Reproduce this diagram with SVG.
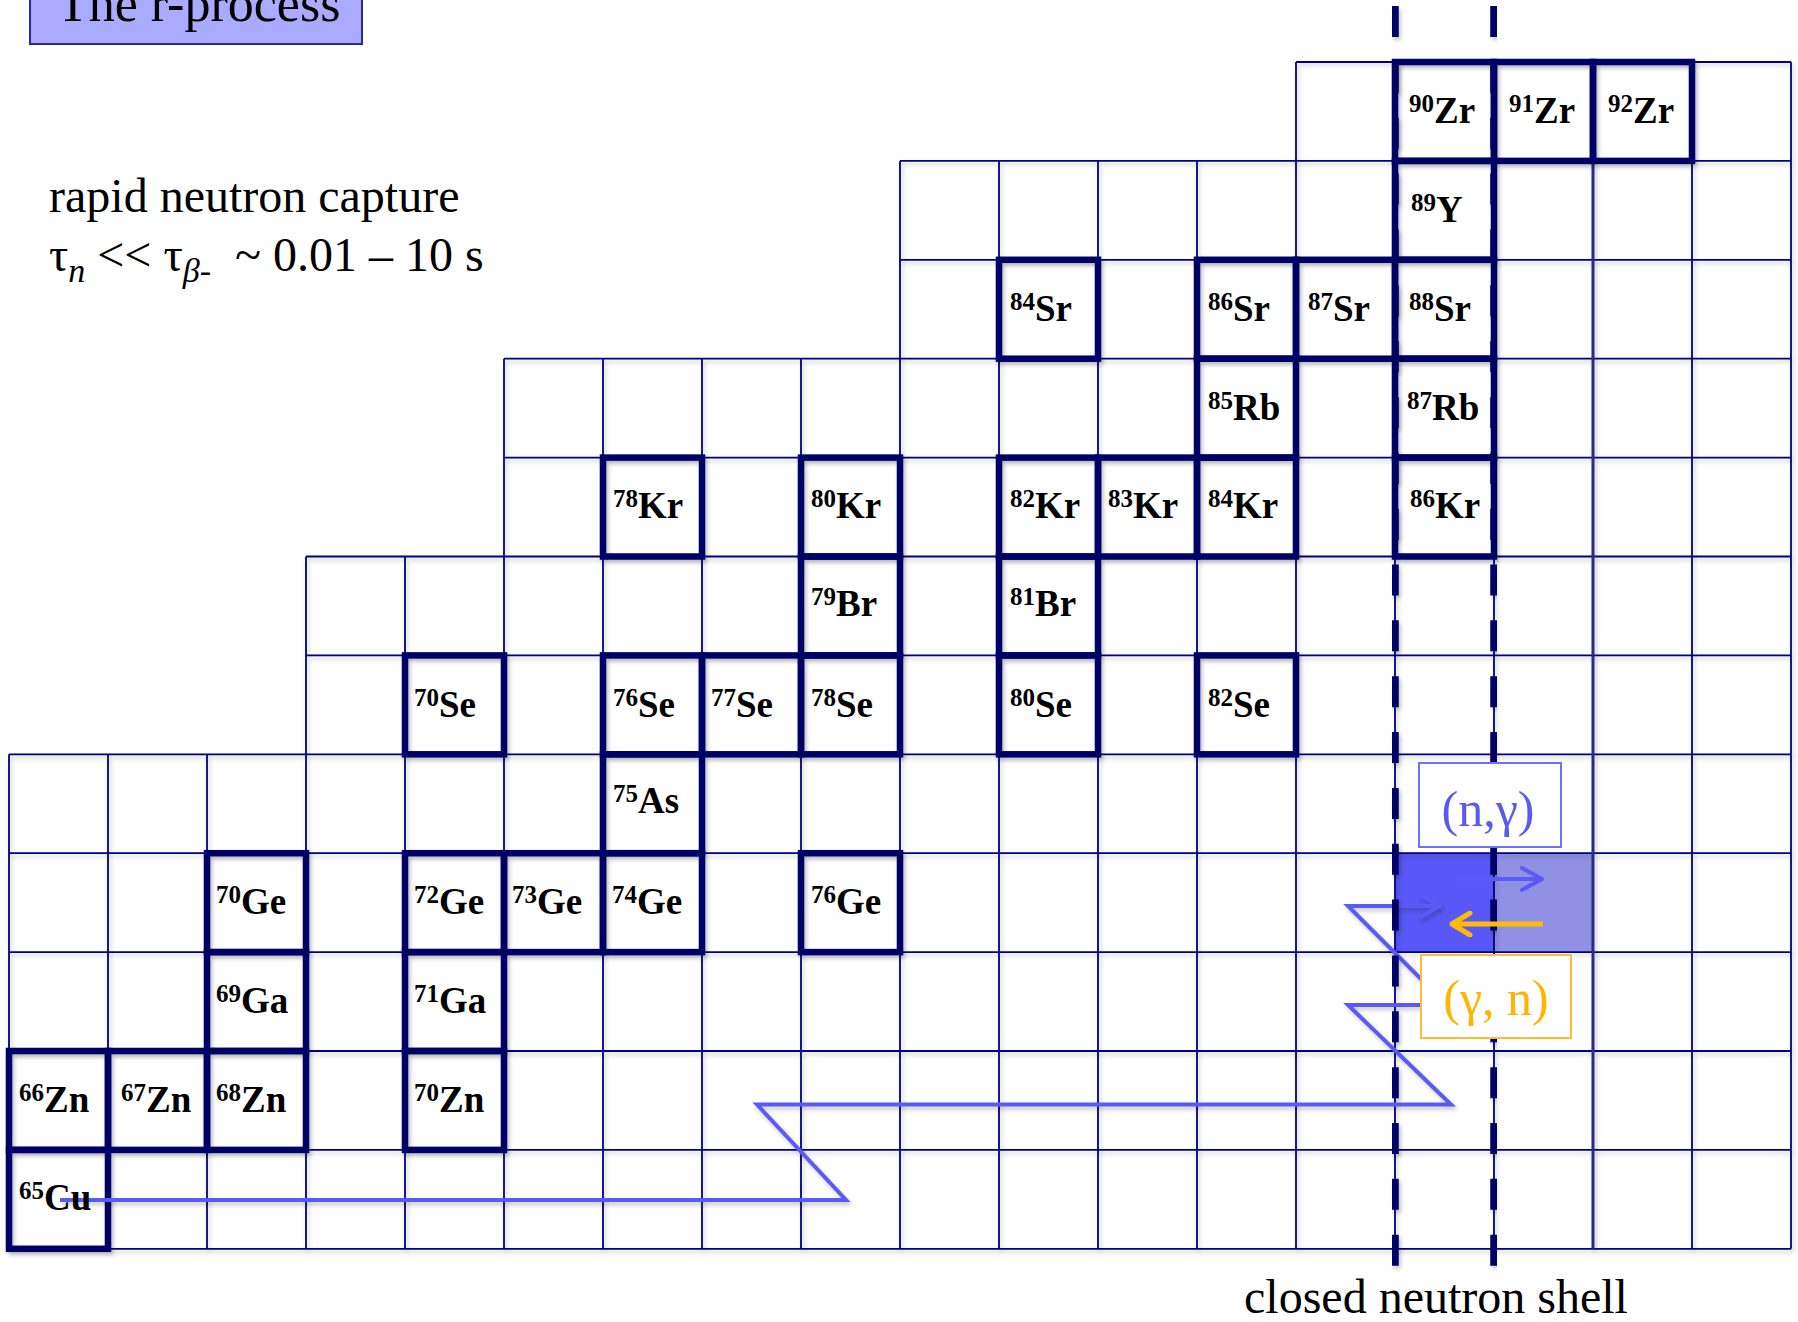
<svg xmlns="http://www.w3.org/2000/svg" width="1798" height="1322" viewBox="0 0 1798 1322">
<style>
.serif{font-family:"Liberation Serif","Times New Roman",serif}
.lbl{font-family:"Liberation Serif","Times New Roman",serif;font-weight:bold;font-size:37px;fill:#000}
.sup{font-size:25px}
.thin{fill:none;stroke:#000080;stroke-width:1.8}
.stab{fill:none;stroke:#000066;stroke-width:6.5}
.shell{fill:none;stroke:#000066;stroke-width:7.5;stroke-dasharray:31 24.85}
.path{fill:none;stroke:#5a5af5;stroke-width:4;stroke-linejoin:miter}
</style>
<defs>
<filter id="sh" x="-3%" y="-3%" width="106%" height="106%">
<feDropShadow dx="2" dy="3" stdDeviation="2" flood-color="#000" flood-opacity="0.22"/>
</filter>
<marker id="chevB" viewBox="0 0 26 26" refX="23" refY="13" markerWidth="26" markerHeight="26" markerUnits="userSpaceOnUse" orient="auto">
<path d="M3,2 L23,13 L3,24" fill="none" stroke="#5a5af5" stroke-width="4" stroke-linecap="round" stroke-linejoin="round"/>
</marker>
<marker id="chevO" viewBox="0 0 26 26" refX="23" refY="13" markerWidth="26" markerHeight="26" markerUnits="userSpaceOnUse" orient="auto">
<path d="M5,2 L23,13 L5,24" fill="none" stroke="#ffbb00" stroke-width="5" stroke-linecap="round" stroke-linejoin="round"/>
</marker>
</defs>
<rect width="1798" height="1322" fill="#fff"/>

<g id="title">
<rect x="30" y="-12" width="332" height="56" fill="#aaaaff" stroke="#2a2a9a" stroke-width="2"/>
<text class="serif" x="57" y="21" font-size="52" fill="#000">The r-process</text>
</g>

<g id="caption">
<text class="serif" x="49" y="212" font-size="48" fill="#000">rapid neutron capture</text>
<text class="serif" x="49" y="271" font-size="48" fill="#000">τ<tspan font-style="italic" font-size="34" dy="11">n</tspan><tspan dy="-11"> &lt;&lt; τ</tspan><tspan font-style="italic" font-size="34" dy="11">β</tspan><tspan font-size="34">-</tspan><tspan dy="-11">&#160; ~ 0.01 – 10 s</tspan></text>
</g>

<g id="highlight-cells">
<rect x="1395" y="853.2" width="99" height="98.9" fill="#5858f8"/>
<rect x="1494" y="853.2" width="99" height="98.9" fill="#9090e4"/>
</g>

<g id="grid" filter="url(#sh)">
<path class="thin" d="M1296,62H1791 M900,160.9H1791 M900,259.8H1791 M504,358.7H1791 M504,457.6H1791 M306,556.5H1791 M306,655.4H1791 M9,754.3H1791 M9,853.2H1791 M9,952.1H1791 M9,1051H1791 M9,1149.9H1791 M9,1248.8H1791"/>
<path class="thin" d="M9,754.3V1248.8 M108,754.3V1248.8 M207,754.3V1248.8 M306,556.5V1248.8 M405,556.5V1248.8 M504,358.7V1248.8 M603,358.7V1248.8 M702,358.7V1248.8 M801,358.7V1248.8 M900,160.9V1248.8 M999,160.9V1248.8 M1098,160.9V1248.8 M1197,160.9V1248.8 M1296,62V1248.8 M1395,62V1248.8 M1494,62V1248.8 M1692,62V1248.8 M1791,62V1248.8"/>
<path d="M1593,62V1248.8" fill="none" stroke="#2a2a8a" stroke-width="3"/>
</g>

<g id="stable" filter="url(#sh)">
<g id="n-90Zr"><rect class="stab" x="1395" y="62" width="99" height="98.9"/></g>
<g id="n-91Zr"><rect class="stab" x="1494" y="62" width="99" height="98.9"/></g>
<g id="n-92Zr"><rect class="stab" x="1593" y="62" width="99" height="98.9"/></g>
<g id="n-89Y"><rect class="stab" x="1395" y="160.9" width="99" height="98.9"/></g>
<g id="n-84Sr"><rect class="stab" x="999" y="259.8" width="99" height="98.9"/></g>
<g id="n-86Sr"><rect class="stab" x="1197" y="259.8" width="99" height="98.9"/></g>
<g id="n-87Sr"><rect class="stab" x="1296" y="259.8" width="99" height="98.9"/></g>
<g id="n-88Sr"><rect class="stab" x="1395" y="259.8" width="99" height="98.9"/></g>
<g id="n-85Rb"><rect class="stab" x="1197" y="358.7" width="99" height="98.9"/></g>
<g id="n-87Rb"><rect class="stab" x="1395" y="358.7" width="99" height="98.9"/></g>
<g id="n-78Kr"><rect class="stab" x="603" y="457.6" width="99" height="98.9"/></g>
<g id="n-80Kr"><rect class="stab" x="801" y="457.6" width="99" height="98.9"/></g>
<g id="n-82Kr"><rect class="stab" x="999" y="457.6" width="99" height="98.9"/></g>
<g id="n-83Kr"><rect class="stab" x="1098" y="457.6" width="99" height="98.9"/></g>
<g id="n-84Kr"><rect class="stab" x="1197" y="457.6" width="99" height="98.9"/></g>
<g id="n-86Kr"><rect class="stab" x="1395" y="457.6" width="99" height="98.9"/></g>
<g id="n-79Br"><rect class="stab" x="801" y="556.5" width="99" height="98.9"/></g>
<g id="n-81Br"><rect class="stab" x="999" y="556.5" width="99" height="98.9"/></g>
<g id="n-70Se"><rect class="stab" x="405" y="655.4" width="99" height="98.9"/></g>
<g id="n-76Se"><rect class="stab" x="603" y="655.4" width="99" height="98.9"/></g>
<g id="n-77Se"><rect class="stab" x="702" y="655.4" width="99" height="98.9"/></g>
<g id="n-78Se"><rect class="stab" x="801" y="655.4" width="99" height="98.9"/></g>
<g id="n-80Se"><rect class="stab" x="999" y="655.4" width="99" height="98.9"/></g>
<g id="n-82Se"><rect class="stab" x="1197" y="655.4" width="99" height="98.9"/></g>
<g id="n-75As"><rect class="stab" x="603" y="754.3" width="99" height="98.9"/></g>
<g id="n-70Ge"><rect class="stab" x="207" y="853.2" width="99" height="98.9"/></g>
<g id="n-72Ge"><rect class="stab" x="405" y="853.2" width="99" height="98.9"/></g>
<g id="n-73Ge"><rect class="stab" x="504" y="853.2" width="99" height="98.9"/></g>
<g id="n-74Ge"><rect class="stab" x="603" y="853.2" width="99" height="98.9"/></g>
<g id="n-76Ge"><rect class="stab" x="801" y="853.2" width="99" height="98.9"/></g>
<g id="n-69Ga"><rect class="stab" x="207" y="952.1" width="99" height="98.9"/></g>
<g id="n-71Ga"><rect class="stab" x="405" y="952.1" width="99" height="98.9"/></g>
<g id="n-66Zn"><rect class="stab" x="9" y="1051" width="99" height="98.9"/></g>
<g id="n-67Zn"><rect class="stab" x="108" y="1051" width="99" height="98.9"/></g>
<g id="n-68Zn"><rect class="stab" x="207" y="1051" width="99" height="98.9"/></g>
<g id="n-70Zn"><rect class="stab" x="405" y="1051" width="99" height="98.9"/></g>
<g id="n-65Cu"><rect class="stab" x="9" y="1149.9" width="99" height="98.9"/></g>
</g>

<g id="connectors">
<polyline class="path" filter="url(#sh)" points="60,1200 846,1200 757,1104.5 1451,1104.5 1348,1005 1447,1005 1348,906 1440,906" marker-end="url(#chevB)"/>
<path class="shell" filter="url(#sh)" d="M1395,6V1270 M1494,6V1270"/>
<line x1="1456" y1="879" x2="1542" y2="879" stroke="#5a5af5" stroke-width="4" marker-end="url(#chevB)"/>
<line x1="1543" y1="924" x2="1452" y2="924" stroke="#ffbb00" stroke-width="5" marker-end="url(#chevO)"/>
</g>

<g id="labels">
<text class="lbl" x="1409" y="123"><tspan class="sup" dy="-11">90</tspan><tspan dy="11">Zr</tspan></text>
<text class="lbl" x="1509" y="123"><tspan class="sup" dy="-11">91</tspan><tspan dy="11">Zr</tspan></text>
<text class="lbl" x="1608" y="123"><tspan class="sup" dy="-11">92</tspan><tspan dy="11">Zr</tspan></text>
<text class="lbl" x="1411" y="222"><tspan class="sup" dy="-11">89</tspan><tspan dy="11">Y</tspan></text>
<text class="lbl" x="1010" y="321"><tspan class="sup" dy="-11">84</tspan><tspan dy="11">Sr</tspan></text>
<text class="lbl" x="1208" y="321"><tspan class="sup" dy="-11">86</tspan><tspan dy="11">Sr</tspan></text>
<text class="lbl" x="1308" y="321"><tspan class="sup" dy="-11">87</tspan><tspan dy="11">Sr</tspan></text>
<text class="lbl" x="1409" y="321"><tspan class="sup" dy="-11">88</tspan><tspan dy="11">Sr</tspan></text>
<text class="lbl" x="1208" y="420"><tspan class="sup" dy="-11">85</tspan><tspan dy="11">Rb</tspan></text>
<text class="lbl" x="1407" y="420"><tspan class="sup" dy="-11">87</tspan><tspan dy="11">Rb</tspan></text>
<text class="lbl" x="613" y="518"><tspan class="sup" dy="-11">78</tspan><tspan dy="11">Kr</tspan></text>
<text class="lbl" x="811" y="518"><tspan class="sup" dy="-11">80</tspan><tspan dy="11">Kr</tspan></text>
<text class="lbl" x="1010" y="518"><tspan class="sup" dy="-11">82</tspan><tspan dy="11">Kr</tspan></text>
<text class="lbl" x="1108" y="518"><tspan class="sup" dy="-11">83</tspan><tspan dy="11">Kr</tspan></text>
<text class="lbl" x="1208" y="518"><tspan class="sup" dy="-11">84</tspan><tspan dy="11">Kr</tspan></text>
<text class="lbl" x="1410" y="518"><tspan class="sup" dy="-11">86</tspan><tspan dy="11">Kr</tspan></text>
<text class="lbl" x="811" y="616"><tspan class="sup" dy="-11">79</tspan><tspan dy="11">Br</tspan></text>
<text class="lbl" x="1010" y="616"><tspan class="sup" dy="-11">81</tspan><tspan dy="11">Br</tspan></text>
<text class="lbl" x="414" y="717"><tspan class="sup" dy="-11">70</tspan><tspan dy="11">Se</tspan></text>
<text class="lbl" x="613" y="717"><tspan class="sup" dy="-11">76</tspan><tspan dy="11">Se</tspan></text>
<text class="lbl" x="711" y="717"><tspan class="sup" dy="-11">77</tspan><tspan dy="11">Se</tspan></text>
<text class="lbl" x="811" y="717"><tspan class="sup" dy="-11">78</tspan><tspan dy="11">Se</tspan></text>
<text class="lbl" x="1010" y="717"><tspan class="sup" dy="-11">80</tspan><tspan dy="11">Se</tspan></text>
<text class="lbl" x="1208" y="717"><tspan class="sup" dy="-11">82</tspan><tspan dy="11">Se</tspan></text>
<text class="lbl" x="613" y="813"><tspan class="sup" dy="-11">75</tspan><tspan dy="11">As</tspan></text>
<text class="lbl" x="216" y="914"><tspan class="sup" dy="-11">70</tspan><tspan dy="11">Ge</tspan></text>
<text class="lbl" x="414" y="914"><tspan class="sup" dy="-11">72</tspan><tspan dy="11">Ge</tspan></text>
<text class="lbl" x="512" y="914"><tspan class="sup" dy="-11">73</tspan><tspan dy="11">Ge</tspan></text>
<text class="lbl" x="612" y="914"><tspan class="sup" dy="-11">74</tspan><tspan dy="11">Ge</tspan></text>
<text class="lbl" x="811" y="914"><tspan class="sup" dy="-11">76</tspan><tspan dy="11">Ge</tspan></text>
<text class="lbl" x="216" y="1013"><tspan class="sup" dy="-11">69</tspan><tspan dy="11">Ga</tspan></text>
<text class="lbl" x="414" y="1013"><tspan class="sup" dy="-11">71</tspan><tspan dy="11">Ga</tspan></text>
<text class="lbl" x="19" y="1112"><tspan class="sup" dy="-11">66</tspan><tspan dy="11">Zn</tspan></text>
<text class="lbl" x="121" y="1112"><tspan class="sup" dy="-11">67</tspan><tspan dy="11">Zn</tspan></text>
<text class="lbl" x="216" y="1112"><tspan class="sup" dy="-11">68</tspan><tspan dy="11">Zn</tspan></text>
<text class="lbl" x="414" y="1112"><tspan class="sup" dy="-11">70</tspan><tspan dy="11">Zn</tspan></text>
<text class="lbl" x="19" y="1210"><tspan class="sup" dy="-11">65</tspan><tspan dy="11">Cu</tspan></text>
</g>

<g id="reaction-ng">
<rect x="1419" y="763" width="142" height="84" fill="#fff" stroke="#7070ff" stroke-width="2"/>
<text class="serif" x="1488" y="826" font-size="50" fill="#5a5af0" text-anchor="middle">(n,γ)</text>
</g>
<g id="reaction-gn">
<rect x="1421" y="955" width="150" height="83" fill="#fff" stroke="#ffbb33" stroke-width="2"/>
<text class="serif" x="1496" y="1015" font-size="50" fill="#ffb400" text-anchor="middle">(γ, n)</text>
</g>

<g id="shell-label">
<text class="serif" x="1244" y="1313" font-size="48" fill="#000">closed neutron shell</text>
</g>
</svg>
